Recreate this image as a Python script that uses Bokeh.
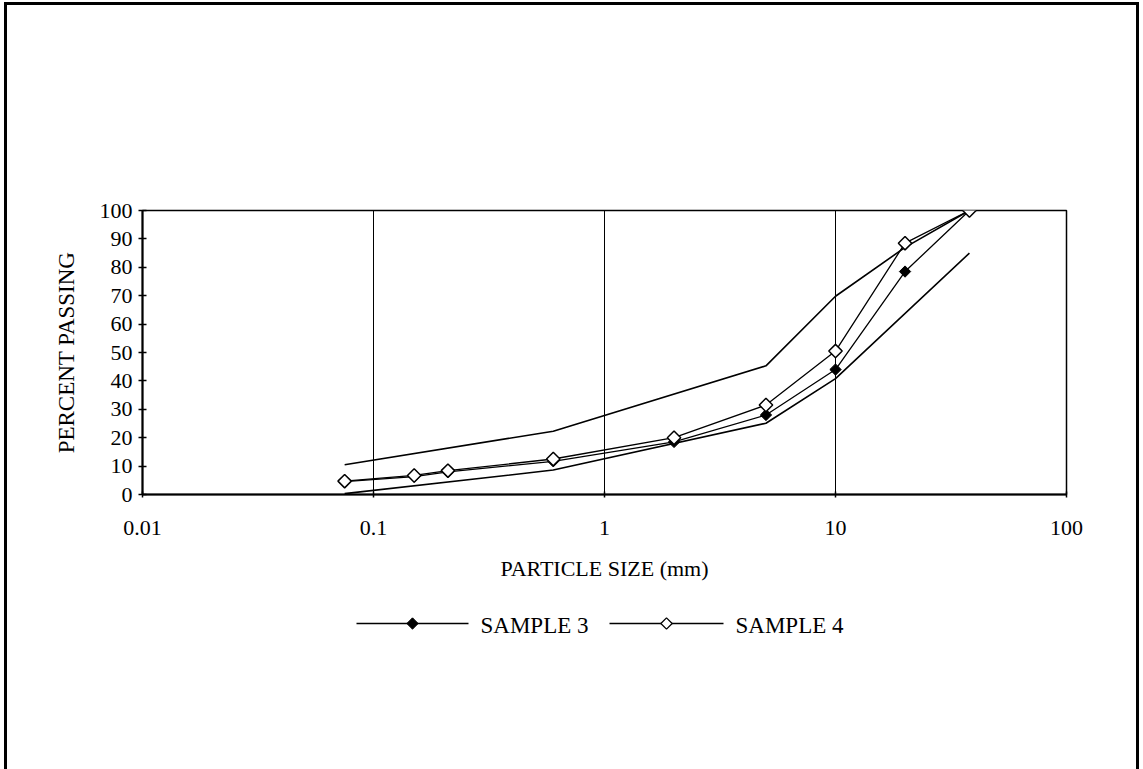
from bokeh.plotting import figure
from bokeh.layouts import column
from bokeh.models import FixedTicker, CustomJSTickFormatter, Range1d
from bokeh.core.properties import value
from bokeh.embed import file_html
from bokeh.resources import INLINE

# Sieve sizes (mm) and percent passing
sieve_mm = [0.075, 0.15, 0.21, 0.6, 2, 5, 10, 20, 38]
sample3 = [4.5, 6.3, 8.0, 11.7, 18.5, 28.0, 44.0, 78.5, 100]
sample4 = [4.7, 6.7, 8.4, 12.5, 20.0, 31.5, 50.5, 88.5, 100]

# Grading envelope limits
upper_mm = [0.075, 0.6, 5, 10, 20, 38]
upper_pct = [10.5, 22.3, 45.3, 69.8, 87.0, 100]
lower_mm = [0.075, 0.6, 5, 10, 38]
lower_pct = [0.3, 8.6, 25.1, 40.8, 85.0]

x_ticks = [0.01, 0.1, 1, 10, 100]
y_ticks = [0, 10, 20, 30, 40, 50, 60, 70, 80, 90, 100]
legend_labels = ["SAMPLE 3", "SAMPLE 4"]

SERIF = "Liberation Serif"
DIAMOND = 0.785398  # square marker turned 45 degrees
FRAME_LEFT, FRAME_RIGHT = 142, 1066

p = figure(width=1143, height=600, x_axis_type="log",
           x_range=Range1d(0.01, 100), y_range=Range1d(0, 100),
           output_backend="svg", toolbar_location=None,
           min_border_left=FRAME_LEFT, min_border_right=1143 - FRAME_RIGHT,
           min_border_top=210, min_border_bottom=106)
p.background_fill_color = "white"
p.border_fill_alpha = 0
p.outline_line_color = "black"
p.outline_line_width = 1.5

# axes
p.xaxis.ticker = FixedTicker(ticks=x_ticks)
p.xaxis.formatter = CustomJSTickFormatter(
    code="return tick < 1 ? tick.toString() : tick.toFixed(0);")
p.yaxis.ticker = FixedTicker(ticks=y_ticks)
for ax in (p.xaxis, p.yaxis):
    ax.axis_line_color = "black"
    ax.axis_line_width = 2
    ax.major_tick_line_color = "black"
    ax.major_tick_line_width = 1.5
    ax.minor_tick_line_color = None
    ax.major_label_text_font = SERIF
    ax.major_label_text_font_size = "22px"
    ax.major_label_text_color = "black"
    ax.axis_label_text_font = SERIF
    ax.axis_label_text_font_style = "normal"
    ax.axis_label_text_color = "black"

p.yaxis.major_tick_in = 4
p.yaxis.major_tick_out = 4
p.yaxis.major_label_standoff = 6
p.yaxis.axis_label = "PERCENT PASSING"
p.yaxis.axis_label_text_font_size = "23px"
p.yaxis.axis_label_standoff = 18

p.xaxis.major_tick_in = 3
p.xaxis.major_tick_out = 3
p.xaxis.major_label_standoff = 23
p.xaxis.axis_label = "PARTICLE SIZE (mm)"
p.xaxis.axis_label_text_font_size = "22px"
p.xaxis.axis_label_standoff = 18

# vertical gridlines at each decade only
p.xgrid.ticker = FixedTicker(ticks=[0.1, 1, 10])
p.xgrid.grid_line_color = "black"
p.xgrid.grid_line_width = 1
p.ygrid.grid_line_color = None

# envelopes
p.line(upper_mm, upper_pct, line_color="black", line_width=1.6)
p.line(lower_mm, lower_pct, line_color="black", line_width=1.6)

# samples
p.line(sieve_mm, sample3, line_color="black", line_width=1.3)
p.scatter(sieve_mm, sample3, marker="square", angle=DIAMOND, size=8,
          fill_color="black", line_color="black", line_width=1)
p.line(sieve_mm, sample4, line_color="black", line_width=1.3)
p.scatter(sieve_mm, sample4, marker="square", angle=DIAMOND, size=9.5,
          fill_color="white", line_color="black", line_width=1.5)

# legend strip below the chart; its frame lines up with the chart frame, so
# the x range is expressed in page pixels and y in pixels from the strip top
lg = figure(width=1143, height=169, x_range=Range1d(FRAME_LEFT, FRAME_RIGHT),
            y_range=Range1d(169, 0), output_backend="svg",
            toolbar_location=None, min_border=0)
lg.axis.visible = False
lg.grid.visible = False
lg.outline_line_color = None
lg.background_fill_alpha = 0
lg.border_fill_alpha = 0

key_x0 = [356, 609]
key_x1 = [468, 723]
key_y = 23
lg.segment(x0=key_x0, y0=key_y, x1=key_x1, y1=key_y,
           line_color="black", line_width=1.3)
lg.scatter(x=[(key_x0[0] + key_x1[0]) / 2], y=[key_y], marker="square",
           angle=DIAMOND, size=8, fill_color="black", line_color="black")
lg.scatter(x=[(key_x0[1] + key_x1[1]) / 2], y=[key_y], marker="square",
           angle=DIAMOND, size=8, fill_color="white", line_color="black",
           line_width=1.3)
lg.text(x=[x + 12 for x in key_x1], y=key_y + 2, text=legend_labels,
        text_font=value(SERIF), text_font_size="23px", text_color="black",
        text_baseline="middle", text_align="left")

layout = column(p, lg, spacing=0)
# page frame: thick rules on top, left and right of the sheet
layout.styles = {
    "background-color": "white",
    "background-image": ("linear-gradient(black, black), "
                         "linear-gradient(black, black), "
                         "linear-gradient(black, black)"),
    "background-position": "4px 2px, 4px 2px, 1136px 2px",
    "background-size": "1135px 3px, 3px 100%, 3px 100%",
    "background-repeat": "no-repeat",
}

open("out.html", "w").write(file_html(layout, INLINE))
